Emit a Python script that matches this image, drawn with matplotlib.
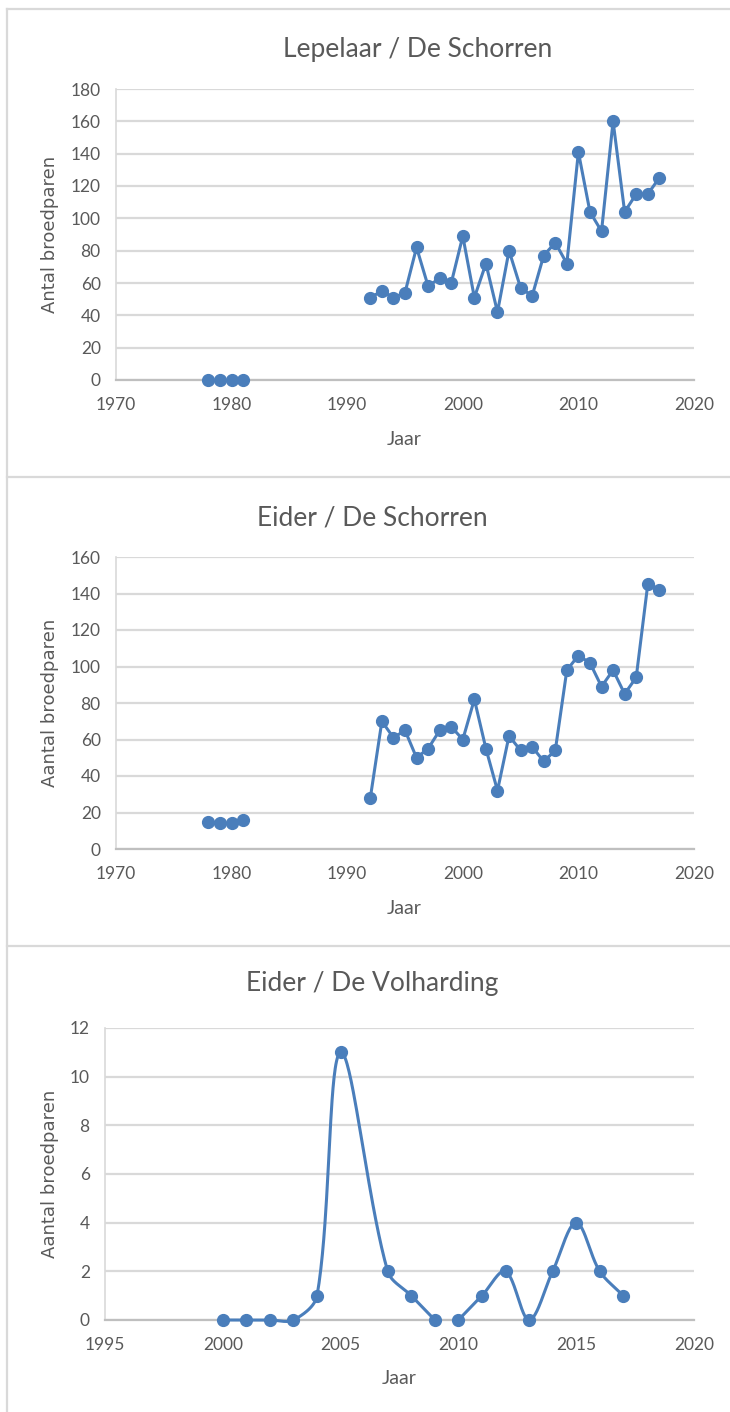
import numpy as np
import matplotlib
matplotlib.use("Agg")
import matplotlib.pyplot as plt
from matplotlib.lines import Line2D

# ---------------- data ----------------
lep_years_a = [1978, 1979, 1980, 1981]
lep_vals_a = [0, 0, 0, 0]
lep_years_b = list(range(1992, 2018))
lep_vals_b = [51, 55, 51, 54, 82, 58, 63, 60, 89, 51, 72, 42, 80, 57, 52, 77,
              85, 72, 141, 104, 92, 160, 104, 115, 115, 125]

eid_years_a = [1978, 1979, 1980, 1981]
eid_vals_a = [15, 14, 14, 16]
eid_years_b = list(range(1992, 2018))
eid_vals_b = [28, 70, 61, 65, 50, 55, 65, 67, 60, 82, 55, 32, 62, 54, 56, 48,
              54, 98, 106, 102, 89, 98, 85, 94, 145, 142]

vol_years_a = [2000, 2001, 2002, 2003, 2004, 2005, 2007, 2008, 2009]
vol_vals_a = [0, 0, 0, 0, 1, 11, 2, 1, 0]
vol_years_b = [2010, 2011, 2012, 2013, 2014, 2015, 2016, 2017]
vol_vals_b = [0, 1, 2, 0, 2, 4, 2, 1]

titles = ["Lepelaar / De Schorren", "Eider / De Schorren", "Eider / De Volharding"]
ylabels = ["Antal broedparen", "Aantal broedparen", "Aantal broedparen"]
xlabel = "Jaar"

BLUE = "#4a7ebb"
GRID = "#d9d9d9"
TXT = "#595959"
FONT = ["Lato", "DejaVu Sans"]

W, H = 730, 1412
fig = plt.figure(figsize=(W / 100, H / 100), dpi=100)


def excel_smooth(ax, x, y, n=40):
    """Bezier smoothing similar to Excel's, computed in display space."""
    P = ax.transData.transform(np.column_stack([x, y]).astype(float))
    out = [P[0]]
    m = len(P)
    for i in range(m - 1):
        p0 = P[i - 1] if i > 0 else P[i]
        p1 = P[i]
        p2 = P[i + 1]
        p3 = P[i + 2] if i + 2 < m else P[i + 1]
        d01 = np.hypot(*(p1 - p0))
        d12 = np.hypot(*(p2 - p1))
        d23 = np.hypot(*(p3 - p2))
        f1 = d12 / (d01 + d12) / 3.0 if d01 + d12 > 0 else 0
        f2 = d12 / (d12 + d23) / 3.0 if d12 + d23 > 0 else 0
        c1 = p1 + (p2 - p0) * f1
        c2 = p2 - (p3 - p1) * f2
        t = np.linspace(0, 1, n)[1:, None]
        seg = ((1 - t) ** 3) * p1 + 3 * ((1 - t) ** 2) * t * c1 + 3 * (1 - t) * t ** 2 * c2 + t ** 3 * p2
        out.extend(seg)
    out = ax.transData.inverted().transform(np.array(out))
    return out[:, 0], out[:, 1]


def px(x0, y0, x1, y1):
    return [x0 / W, 1 - y1 / H, (x1 - x0) / W, (y1 - y0) / H]


panels = [
    dict(rect=px(116, 89, 694, 380), xlim=(1970, 2020), xt=range(1970, 2021, 10),
         ylim=(0, 180), yt=range(0, 181, 20),
         series=[(lep_years_a, lep_vals_a), (lep_years_b, lep_vals_b)], smooth=False,
         title_x=418, title_y=50, jaar_x=404, jaar_y=440),
    dict(rect=px(116, 557, 694, 849), xlim=(1970, 2020), xt=range(1970, 2021, 10),
         ylim=(0, 160), yt=range(0, 161, 20),
         series=[(eid_years_a, eid_vals_a), (eid_years_b, eid_vals_b)], smooth=False,
         title_x=372, title_y=518, jaar_x=404, jaar_y=908),
    dict(rect=px(105, 1028, 694, 1320), xlim=(1995, 2020), xt=range(1995, 2021, 5),
         ylim=(0, 12), yt=range(0, 13, 2),
         series=[(vol_years_a, vol_vals_a), (vol_years_b, vol_vals_b)], smooth=True,
         title_x=372, title_y=983, jaar_x=399, jaar_y=1378),
]

for k, p in enumerate(panels):
    ax = fig.add_axes(p["rect"])
    ax.set_xlim(*p["xlim"])
    ax.set_ylim(*p["ylim"])
    ax.set_xticks(list(p["xt"]))
    ax.set_yticks(list(p["yt"]))
    ax.grid(axis="y", color=GRID, lw=1.6, zorder=0)
    ax.set_axisbelow(True)
    for s in ["top", "right"]:
        ax.spines[s].set_visible(False)
    ax.spines["left"].set_color(GRID)
    ax.spines["left"].set_linewidth(1.2)
    ax.spines["bottom"].set_color("#bfbfbf")
    ax.spines["bottom"].set_linewidth(1.6)
    ax.tick_params(length=0, colors=TXT, labelsize=12.5)
    ax.tick_params(axis="y", pad=11)
    ax.tick_params(axis="x", pad=12)
    for lab in ax.get_xticklabels() + ax.get_yticklabels():
        lab.set_fontfamily(FONT)
    for xs, ys in p["series"]:
        if p["smooth"]:
            sx, sy = excel_smooth(ax, xs, ys)
            ax.plot(sx, sy, color=BLUE, lw=2.2, zorder=3, clip_on=False)
        else:
            ax.plot(xs, ys, color=BLUE, lw=2.2, zorder=3, clip_on=False)
        ax.plot(xs, ys, ls="none", marker="o", ms=8.5, color=BLUE, zorder=4, clip_on=False)
    fig.text(p["title_x"] / W, 1 - p["title_y"] / H, titles[k], ha="center", va="center",
             fontsize=19, color=TXT, family=FONT)
    fig.text(p["jaar_x"] / W, 1 - p["jaar_y"] / H, xlabel, ha="center", va="center",
             fontsize=14, color=TXT, family=FONT)
    cy = p["rect"][1] + p["rect"][3] / 2
    fig.text(50 / W, cy, ylabels[k], rotation=90, ha="center", va="center",
             fontsize=13, color=TXT, family="DejaVu Sans")

# panel borders
for y in [9, 477, 946]:
    fig.add_artist(Line2D([7 / W, 1], [1 - y / H, 1 - y / H], color=GRID, lw=1.6,
                          transform=fig.transFigure))
fig.add_artist(Line2D([7 / W, 7 / W], [0, 1 - 9 / H], color=GRID, lw=1.6,
                      transform=fig.transFigure))

fig.savefig("out.png", dpi=100, facecolor="white")
